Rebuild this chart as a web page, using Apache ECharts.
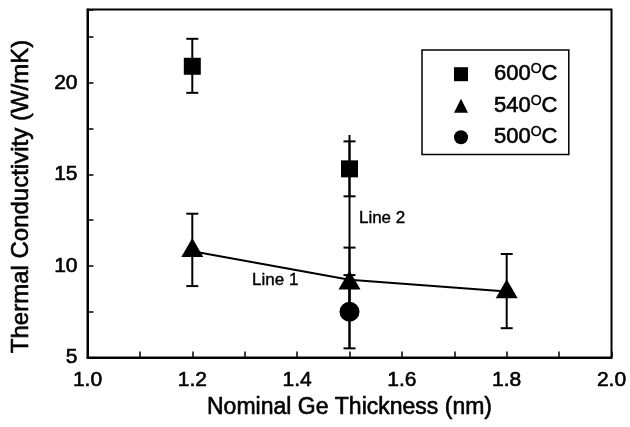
<!DOCTYPE html>
<html>
<head>
<meta charset="utf-8">
<script src="https://cdn.jsdelivr.net/npm/echarts@6/dist/echarts.min.js"></script>
<style>html,body{margin:0;padding:0;background:#fff}#c{width:630px;height:427px}</style>
</head>
<body>
<div id="c"></div>
<script>
// ---- data ----
const seriesNames = ['600°C', '540°C', '500°C'];
const x600 = [1.2, 1.5];
const y600 = [20.9, 15.3];
const lo600 = [19.45, 13.8];
const hi600 = [22.4, 16.8];

const x540 = [1.2, 1.5, 1.8];
const y540 = [11.0, 9.23, 8.75];
const lo540 = [8.9, 7.4, 6.6];
const hi540 = [12.85, 11.0, 10.65];

const x500 = [1.5];
const y500 = [7.5];
const lo500 = [5.5];
const hi500 = [9.5];

const line1X = [1.2, 1.5, 1.8];
const line1Y = [10.8, 9.25, 8.6];
const line2X = [1.5, 1.5];
const line2Y = [5.5, 17.15];

const annotX = [1.314, 1.518];
const annotY = [9.23, 12.6];
const annotText = ['Line 1', 'Line 2'];

const xLabelValues = [1.0, 1.2, 1.4, 1.6, 1.8, 2.0];
const yLabelValues = [5, 10, 15, 20];

const FONT = 'Liberation Sans, Arial, sans-serif';
const THICK = { textBorderColor: '#000', textBorderWidth: 0.6 };

function zip(a, b) { return a.map((v, i) => [v, b[i]]); }
function errData(xs, lo, hi) { return xs.map((v, i) => [v, lo[i], hi[i]]); }

function errRender(params, api) {
  const x = api.value(0);
  const p1 = api.coord([x, api.value(1)]);
  const p2 = api.coord([x, api.value(2)]);
  const cap = 6;
  const st = { stroke: '#000', lineWidth: 2 };
  return {
    type: 'group',
    children: [
      { type: 'line', shape: { x1: p1[0], y1: p1[1], x2: p2[0], y2: p2[1] }, style: st },
      { type: 'line', shape: { x1: p1[0] - cap, y1: p1[1], x2: p1[0] + cap, y2: p1[1] }, style: st },
      { type: 'line', shape: { x1: p2[0] - cap, y1: p2[1], x2: p2[0] + cap, y2: p2[1] }, style: st }
    ]
  };
}

const chart = echarts.init(document.getElementById('c'), null, { renderer: 'canvas' });
const option = {
  animation: false,
  backgroundColor: '#fff',
  textStyle: { fontFamily: FONT },
  grid: { left: 87.5, right: 18.5, top: 9.5, bottom: 69.5, show: true, borderColor: '#000', borderWidth: 2 },
  legend: {
    data: seriesNames,
    orient: 'vertical',
    left: 422, top: 50,
    padding: [12, 11, 6, 32],
    itemGap: 8,
    itemWidth: 14, itemHeight: 14,
    borderColor: '#000', borderWidth: 1.5,
    backgroundColor: '#fff',
    formatter: function (name) {
      return '{g| }{n|' + name.replace('°C', '') + '}{s|O}{n|C}';
    },
    textStyle: {
      fontFamily: FONT, color: '#000',
      rich: {
        g: { width: 21, fontSize: 14, lineHeight: 14, verticalAlign: 'bottom' },
        n: Object.assign({ fontSize: 22, fontFamily: FONT, color: '#000', lineHeight: 22, verticalAlign: 'bottom' }, THICK),
        s: { fontSize: 14, fontFamily: FONT, color: '#000', lineHeight: 14, verticalAlign: 'bottom', padding: [0, 0, 9, 0], textBorderColor: '#000', textBorderWidth: 0.4 }
      }
    }
  },
  xAxis: {
    type: 'value', min: 1.0, max: 2.0, interval: 0.1,
    name: 'Nominal Ge Thickness (nm)', nameLocation: 'middle', nameGap: 33,
    nameTextStyle: Object.assign({ fontSize: 23, color: '#000', fontFamily: FONT }, THICK),
    axisLine: { lineStyle: { color: '#000', width: 2 } },
    axisTick: { inside: true, length: 6, lineStyle: { color: '#000', width: 1.5 } },
    splitLine: { show: false },
    axisLabel: Object.assign({
      fontSize: 21, color: '#000', margin: 12, fontFamily: FONT,
      formatter: function (v) {
        const hit = xLabelValues.find(t => Math.abs(t - v) < 1e-6);
        return hit === undefined ? '' : hit.toFixed(1);
      }
    }, THICK)
  },
  yAxis: {
    type: 'value', min: 5, max: 24, interval: 2.5,
    name: 'Thermal Conductivity (W/mK)', nameLocation: 'middle', nameGap: 54,
    nameTextStyle: Object.assign({ fontSize: 24, color: '#000', fontFamily: FONT, padding: [0, 26, 0, 0] }, THICK),
    axisLine: { show: true, lineStyle: { color: '#000', width: 2 } },
    axisTick: { show: true, inside: true, length: 6, lineStyle: { color: '#000', width: 1.5 } },
    splitLine: { show: false },
    axisLabel: Object.assign({
      fontSize: 21, color: '#000', margin: 10, fontFamily: FONT,
      formatter: function (v) {
        const hit = yLabelValues.find(t => Math.abs(t - v) < 1e-6);
        return hit === undefined ? '' : String(hit);
      }
    }, THICK)
  },
  series: [
    { type: 'line', name: 'Line 1', data: zip(line1X, line1Y), symbol: 'none', lineStyle: { color: '#000', width: 2 }, z: 2 },
    { type: 'line', name: 'Line 2', data: zip(line2X, line2Y), symbol: 'none', lineStyle: { color: '#000', width: 2 }, z: 2 },
    { type: 'custom', name: 'err600', data: errData(x600, lo600, hi600), renderItem: errRender, z: 2 },
    { type: 'custom', name: 'err540', data: errData(x540, lo540, hi540), renderItem: errRender, z: 2 },
    { type: 'custom', name: 'err500', data: errData(x500, lo500, hi500), renderItem: errRender, z: 2 },
    { type: 'scatter', name: seriesNames[0], data: zip(x600, y600), symbol: 'rect', symbolSize: 17, itemStyle: { color: '#000', opacity: 1 }, z: 5 },
    { type: 'scatter', name: seriesNames[1], data: zip(x540, y540), symbol: 'triangle', symbolSize: [22, 19], itemStyle: { color: '#000', opacity: 1 }, z: 5 },
    { type: 'scatter', name: seriesNames[2], data: zip(x500, y500), symbol: 'circle', symbolSize: 20, itemStyle: { color: '#000', opacity: 1 }, z: 5 },
    {
      type: 'scatter', name: 'annotations', symbolSize: 0, silent: true, z: 6,
      itemStyle: { opacity: 1 },
      data: annotX.map((v, i) => ({ value: [v, annotY[i]], text: annotText[i] })),
      label: {
        show: true, position: 'right', distance: 0,
        fontSize: 17, color: '#000', fontFamily: FONT,
        textBorderColor: '#000', textBorderWidth: 0.4,
        formatter: function (p) { return p.data.text; }
      }
    }
  ]
};
chart.setOption(option);
</script>
</body>
</html>
